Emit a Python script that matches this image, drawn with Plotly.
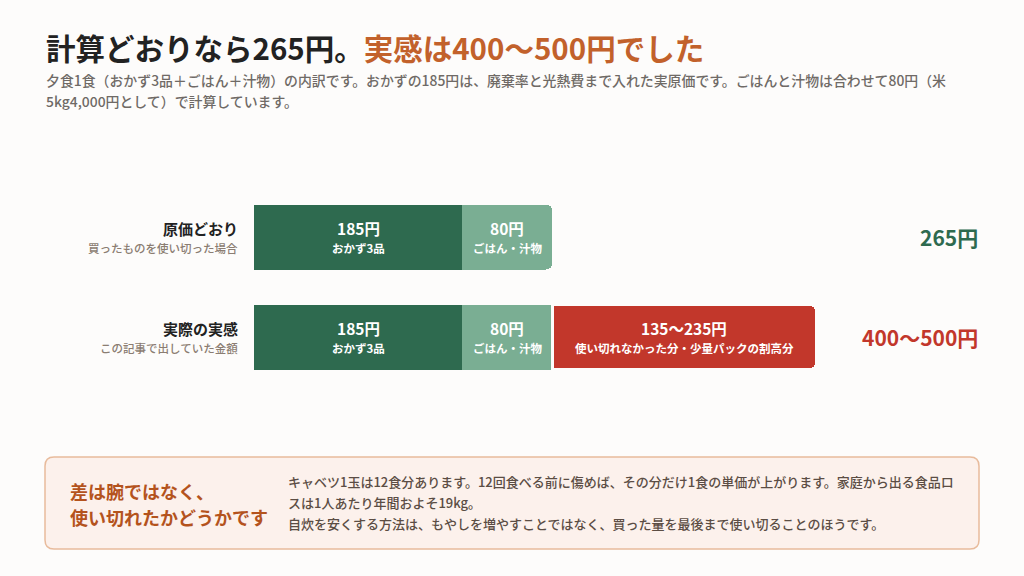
import plotly.graph_objects as go

# --- data ---
rows = ["原価どおり", "実際の実感"]
row_notes = ["買ったものを使い切った場合", "この記事で出していた金額"]
okazu = [185, 185]
gohan = [80, 80]
extra = [None, 235]
okazu_labels = ["185円", "185円"]
gohan_labels = ["80円", "80円"]
extra_labels = ["", "135〜235円"]
okazu_notes = ["おかず3品", "おかず3品"]
gohan_notes = ["ごはん・汁物", "ごはん・汁物"]
extra_notes = ["", "使い切れなかった分・少量パックの割高分"]
totals = ["265円", "400〜500円"]

title_main = "計算どおりなら265円。"
title_accent = "実感は400〜500円でした"
subtitle_lines = [
    "夕食1食（おかず3品＋ごはん＋汁物）の内訳です。おかずの185円は、廃棄率と光熱費まで入れた実原価です。ごはんと汁物は合わせて80円（米",
    "5kg4,000円として）で計算しています。",
]
box_head = ["差は腕ではなく、", "使い切れたかどうかです"]
box_body = [
    "キャベツ1玉は12食分あります。12回食べる前に傷めば、その分だけ1食の単価が上がります。家庭から出る食品ロ",
    "スは1人あたり年間およそ19kg。",
    "自炊を安くする方法は、もやしを増やすことではなく、買った量を最後まで使い切ることのほうです。",
]

# --- style ---
FONT = "Noto Sans CJK JP"
BG = "#fdfcfb"
DARK_GREEN = "#2e6a4f"
LIGHT_GREEN = "#7aae93"
RED = "#c2372b"
ORANGE = "#c2612b"
INK = "#222222"
GRAY = "#6f6a66"
NOTE_GRAY = "#8b7d72"

W, H = 1024, 576
ML, MR, MT, MB = 254, 44, 187, 189
PW = W - ML - MR
PH = H - MT - MB


def px(x):
    return (x - ML) / PW


def py(y):
    return (H - MB - y) / PH


fig = go.Figure()
fig.add_trace(go.Bar(y=rows, x=okazu, orientation="h", marker_color=DARK_GREEN, marker_line_width=0))
fig.add_trace(go.Bar(y=rows, x=gohan, orientation="h", marker_color=LIGHT_GREEN, marker_line_width=0))
fig.add_trace(go.Bar(y=rows, x=extra, orientation="h", marker_color=RED,
                     marker_line=dict(color=BG, width=3)))
fig.update_traces(hoverinfo="skip")

ann = []
# labels inside the bar segments (centred on each segment)
for i, r in enumerate(rows):
    base = 0
    for vals, labels, notes in [(okazu, okazu_labels, okazu_notes),
                                (gohan, gohan_labels, gohan_notes),
                                (extra, extra_labels, extra_notes)]:
        v = vals[i]
        if not v:
            continue
        mid = base + v / 2
        ann.append(dict(x=mid, y=r, xref="x", yref="y", yshift=9, text=f"<b>{labels[i]}</b>",
                        font=dict(size=15.5, color="white"), showarrow=False))
        ann.append(dict(x=mid, y=r, xref="x", yref="y", yshift=-11, text=f"<b>{notes[i]}</b>",
                        font=dict(size=11.5, color="white"), showarrow=False))
        base += v

# row labels and totals
for i, r in enumerate(rows):
    ann.append(dict(x=px(240), y=r, xref="paper", yref="y", xanchor="right", yanchor="middle",
                    yshift=9, text=f"<b>{r}</b>", font=dict(size=15, color=INK), showarrow=False))
    ann.append(dict(x=px(240), y=r, xref="paper", yref="y", xanchor="right", yanchor="middle",
                    yshift=-11, text=row_notes[i], font=dict(size=11.5, color=NOTE_GRAY, weight=500),
                    showarrow=False))
    ann.append(dict(x=px(980), y=r, xref="paper", yref="y", xanchor="right", yanchor="middle",
                    text=f"<b>{totals[i]}</b>", font=dict(size=21, color=[DARK_GREEN, RED][i]),
                    showarrow=False))

# title + subtitle
ann.append(dict(x=px(44), y=py(47), xref="paper", yref="paper", xanchor="left", yanchor="middle",
                text=f"<b>{title_main}</b><b><span style='color:{ORANGE}'>{title_accent}</span></b>",
                font=dict(size=29.5, color=INK), showarrow=False))
for line, yy in zip(subtitle_lines, [80, 101]):
    ann.append(dict(x=px(44), y=py(yy), xref="paper", yref="paper", xanchor="left", yanchor="middle",
                    text=line, font=dict(size=13.9, color=GRAY, weight=500), showarrow=False))

# callout box text
for line, yy in zip(box_head, [491, 517]):
    ann.append(dict(x=px(68), y=py(yy), xref="paper", yref="paper", xanchor="left", yanchor="middle",
                    text=f"<b>{line}</b>", font=dict(size=18, color="#b4531d"), showarrow=False))
for line, yy in zip(box_body, [481, 502, 523]):
    ann.append(dict(x=px(286), y=py(yy), xref="paper", yref="paper", xanchor="left", yanchor="middle",
                    text=line, font=dict(size=13, color="#5b4d44", weight=500), showarrow=False))


def rounded_rect(x0, y0, x1, y1, r):
    pts = [
        f"M {px(x0 + r)} {py(y0)}", f"L {px(x1 - r)} {py(y0)}", f"Q {px(x1)} {py(y0)} {px(x1)} {py(y0 + r)}",
        f"L {px(x1)} {py(y1 - r)}", f"Q {px(x1)} {py(y1)} {px(x1 - r)} {py(y1)}",
        f"L {px(x0 + r)} {py(y1)}", f"Q {px(x0)} {py(y1)} {px(x0)} {py(y1 - r)}",
        f"L {px(x0)} {py(y0 + r)}", f"Q {px(x0)} {py(y0)} {px(x0 + r)} {py(y0)}", "Z",
    ]
    return " ".join(pts)


fig.add_shape(type="path", xref="paper", yref="paper", path=rounded_rect(45, 457, 979, 549, 9),
              line=dict(color="#e8bb9c", width=1.5), fillcolor="#fcf1ec", layer="below")

fig.update_layout(
    width=W, height=H,
    margin=dict(l=ML, r=MR, t=MT, b=MB),
    paper_bgcolor=BG, plot_bgcolor=BG,
    barmode="stack", bargap=0.35, barcornerradius=6,
    showlegend=False,
    font=dict(family=FONT),
    annotations=ann,
    xaxis=dict(range=[0, PW / 1.125], visible=False, fixedrange=True),
    yaxis=dict(categoryorder="array", categoryarray=rows, autorange="reversed",
               visible=False, fixedrange=True),
)

fig.write_html("out.html", config={"displayModeBar": False},
               post_script="document.body.style.margin='0';document.body.style.background='%s';" % BG)
